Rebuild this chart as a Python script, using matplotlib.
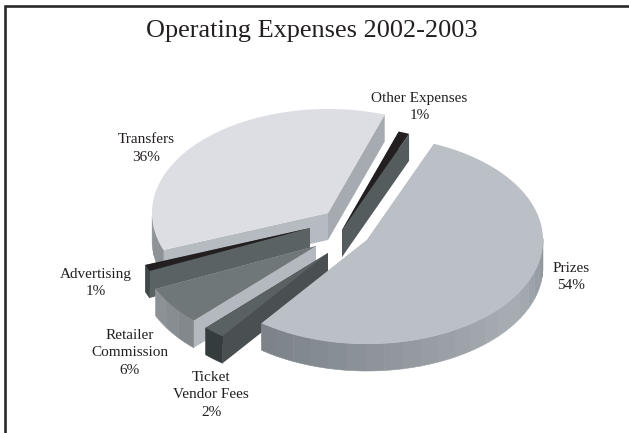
import numpy as np
import matplotlib
matplotlib.use("Agg")
import matplotlib.pyplot as plt
from matplotlib.colors import to_rgb
from matplotlib.patches import Polygon

# Expense shares, clockwise from the first slice
categories = ["Prizes", "Ticket\nVendor Fees", "Retailer\nCommission", "Advertising", "Transfers", "Other Expenses"]
shares = [54, 2, 6, 1, 36, 1]

# Pie layout (pixels)
cx, cy = 345, 235
rx, ry = 176, 104
depth = 27
start_angle = 22.4
explode_x = [22, -17, -29, -35, -17, -3]
explode_y = [5, 18, 11, -7, -22, -5]

top_colors = ["#bbc0c7", "#596163", "#6f7779", "#231f20", "#dcdee3", "#231f20"]
cut_start_colors = ["#a0a6ac", "#4a5052", "#b4b9c0", "#5a6264", "#b6bbc1", "#545c5e"]   # face along the slice's first edge
cut_end_colors = ["#a0a6ac", "#3a4244", "#b4b9c0", "#5a6264", "#a5abb1", "#545c5e"]     # face along the last edge

# Rim shade stops: angle on the pie -> colour
rim_stops = [
    ([95, 125, 165, 217], ["#8f979e", "#a9aeb4", "#949aa0", "#7b8287"]),
    ([217, 224], ["#343c3e", "#343c3e"]),
    ([224, 246], ["#7f868a", "#8f9599"]),
    ([246, 249], ["#3f4749", "#3f4749"]),
    ([249, 270], ["#8d9297", "#8d9297"]),
    ([19, 22], ["#545c5e", "#545c5e"]),
]

label_x = [571, 211, 130, 95.5, 146.5, 419.5]
label_y = [277, 395, 353, 283, 148.5, 107]


def rim_point(ax0, ay0, ang):
    r = np.radians(ang)
    return ax0 + rx * np.sin(r), ay0 - ry * np.cos(r)


def rim_color(i, ang):
    stops, cols = rim_stops[i]
    rgb = np.array([to_rgb(c) for c in cols])
    return [np.interp(ang, stops, rgb[:, k]) for k in range(3)]


fig = plt.figure(figsize=(6.29, 4.33), dpi=100)
ax = fig.add_axes([0, 0, 1, 1])
ax.set_xlim(0, 629)
ax.set_ylim(433, 0)
ax.axis("off")

# Work out each slice's angular range
edges = start_angle + np.cumsum([0] + shares) * 3.6

# Back to front: transfers, other, advertising, retailer, ticket, prizes
for i in [4, 5, 3, 2, 1, 0]:
    a0, a1 = edges[i], edges[i + 1]
    ax0, ay0 = cx + explode_x[i], cy + explode_y[i]
    angs = np.linspace(a0, a1, max(int(a1 - a0) * 2, 4))
    xs, ys = rim_point(ax0, ay0, angs)

    # cut faces
    p0 = rim_point(ax0, ay0, a0)
    p1 = rim_point(ax0, ay0, a1)
    ax.add_patch(Polygon([(ax0, ay0), p1, (p1[0], p1[1] + depth), (ax0, ay0 + depth)],
                         fc=cut_end_colors[i], ec="none"))
    ax.add_patch(Polygon([(ax0, ay0), p0, (p0[0], p0[1] + depth), (ax0, ay0 + depth)],
                         fc=cut_start_colors[i], ec="none"))

    # outer rim in shaded bands, only the part facing the viewer
    n_band = max(int((a1 - a0) / 6.0), 1)
    band_edges = np.linspace(a0, a1, n_band + 1)
    for k in range(n_band):
        b0, b1 = band_edges[k], band_edges[k + 1]
        mid = ((b0 + b1) / 2) % 360
        if mid < 90 or mid > 270:
            continue
        qx, qy = rim_point(ax0, ay0, np.linspace(b0, b1, 6))
        pts = list(zip(qx, qy)) + list(zip(qx[::-1], qy[::-1] + depth))
        col = rim_color(i, mid)
        ax.add_patch(Polygon(pts, fc=col, ec=col, lw=0.4))

    ax.add_patch(Polygon(list(zip(xs, ys)) + [(ax0, ay0)], fc=top_colors[i], ec="none"))

# Labels
for i, name in enumerate(categories):
    ax.text(label_x[i], label_y[i], f"{name}\n{shares[i]}%", ha="center", va="center",
            fontsize=11, color="#231f20", linespacing=1.44, family="Liberation Serif", zorder=3)

ax.text(312, 31, "Operating Expenses 2002-2003", ha="center", va="center",
        fontsize=18.9, color="#231f20", family="Liberation Serif", zorder=3)

# Frame open at the bottom
ax.plot([5.3, 5.3, 629], [433, 6, 6], color="#2b2829", lw=1.9, solid_joinstyle="miter",
        solid_capstyle="butt", zorder=3)

fig.savefig("out.png", dpi=100)
